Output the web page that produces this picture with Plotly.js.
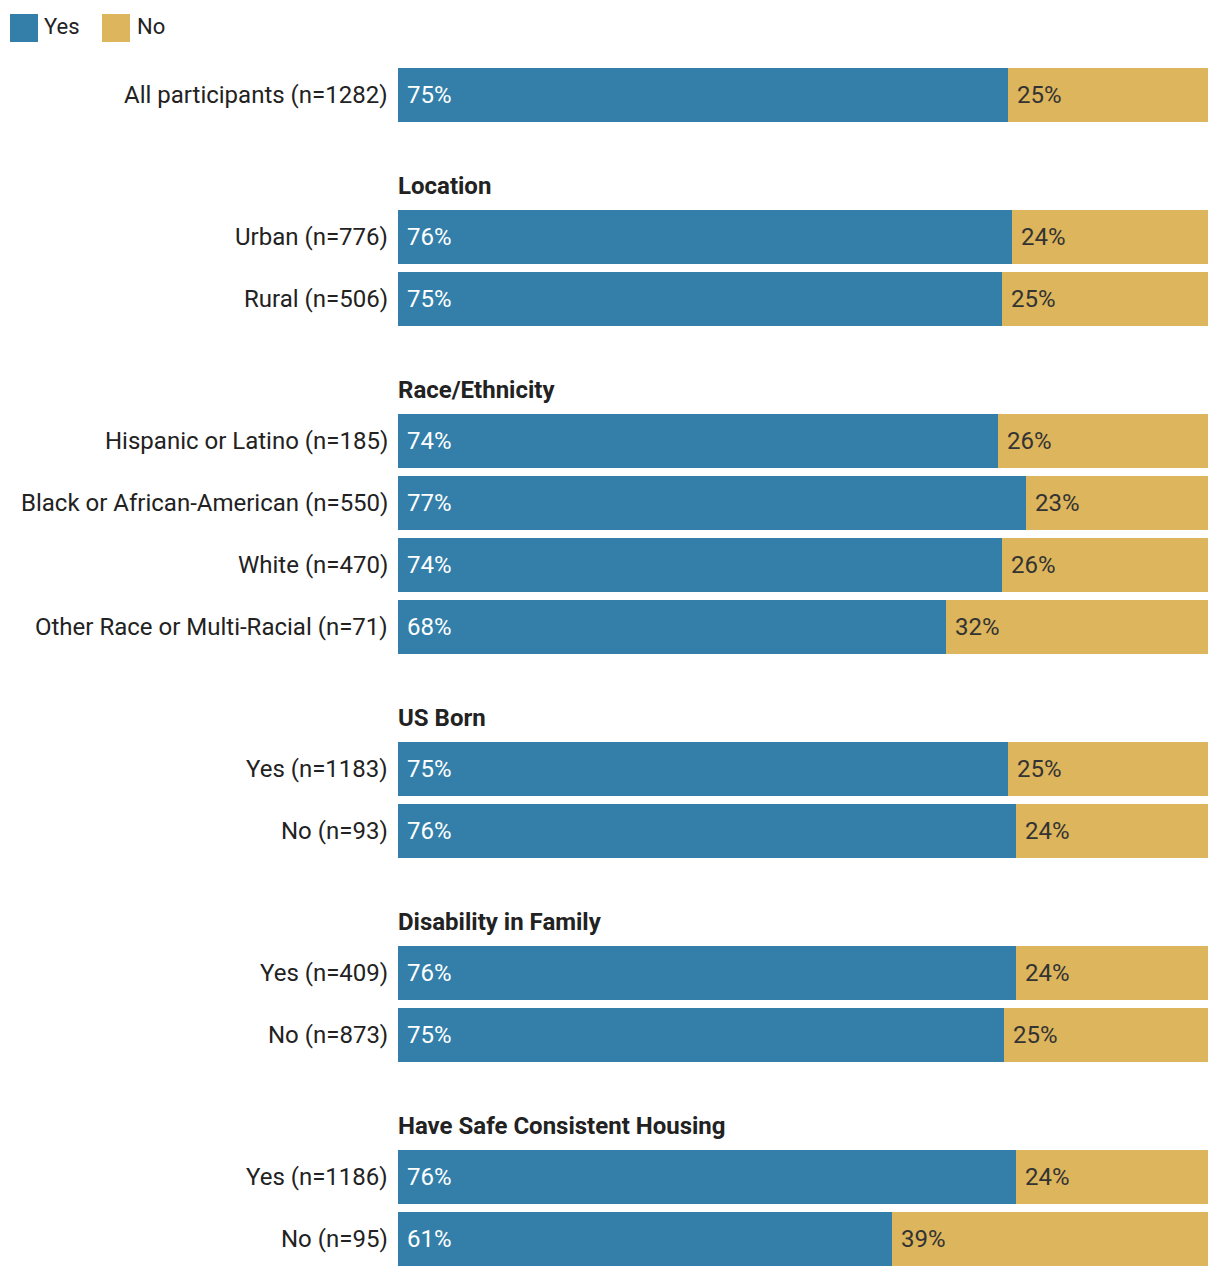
<!DOCTYPE html>
<html>
<head>
<meta charset="utf-8">
<script src="https://cdn.plot.ly/plotly-3.0.1.min.js"></script>
<style>html,body{margin:0;padding:0;background:#fff;}#chart{width:1220px;height:1278px;}</style>
</head>
<body>
<div id="chart"></div>
<script>
// ---- data ----
const groupHeadings = ["", "Location", "Race/Ethnicity", "US Born", "Disability in Family", "Have Safe Consistent Housing"];
const rowGroup = [0, 1, 1, 2, 2, 2, 2, 3, 3, 4, 4, 5, 5];
const categories = [
  "All participants (n=1282)",
  "Urban (n=776)", "Rural (n=506)",
  "Hispanic or Latino (n=185)", "Black or African-American (n=550)", "White (n=470)", "Other Race or Multi-Racial (n=71)",
  "Yes (n=1183)", "No (n=93)",
  "Yes (n=409)", "No (n=873)",
  "Yes (n=1186)", "No (n=95)"
];
const yesValues = [75.3, 75.8, 74.6, 74.1, 77.5, 74.6, 67.7, 75.3, 76.3, 76.3, 74.8, 76.3, 61.0];
const noValues  = [24.7, 24.2, 25.4, 25.9, 22.5, 25.4, 32.3, 24.7, 23.7, 23.7, 25.2, 23.7, 39.0];
const yesLabels = ["75%", "76%", "75%", "74%", "77%", "74%", "68%", "75%", "76%", "76%", "75%", "76%", "61%"];
const noLabels  = ["25%", "24%", "25%", "26%", "23%", "26%", "32%", "25%", "24%", "24%", "25%", "24%", "39%"];

// ---- layout helpers ----
const BLUE = "#337FAA", GOLD = "#DDB55C";
const FONT = "Roboto, 'Noto Sans', sans-serif";
const groupGap = 142 / 62; // row units between groups
const headingOffset = 51 / 62;
const ypos = [];
let cur = 0;
for (let i = 0; i < categories.length; i++) {
  if (i === 0) cur = 0;
  else if (rowGroup[i] !== rowGroup[i - 1]) cur += groupGap;
  else cur += 1;
  ypos.push(cur);
}

const traces = [
  {type: "bar", orientation: "h", name: "Yes", x: yesValues, y: ypos, marker: {color: BLUE}, width: 54 / 62, hoverinfo: "skip"},
  {type: "bar", orientation: "h", name: "No", x: noValues, y: ypos, marker: {color: GOLD}, width: 54 / 62, hoverinfo: "skip"}
];

const annotations = [];
for (let i = 0; i < categories.length; i++) {
  annotations.push({xref: "paper", yref: "y", x: 0, y: ypos[i], xanchor: "right", yanchor: "middle", xshift: -8,
    text: categories[i], showarrow: false, font: {family: FONT, size: 24, color: "#222"}});
  annotations.push({xref: "x", yref: "y", x: 0, y: ypos[i], xanchor: "left", yanchor: "middle", xshift: 7,
    text: yesLabels[i], showarrow: false, font: {family: FONT, size: 24, color: "#fff"}});
  annotations.push({xref: "x", yref: "y", x: yesValues[i], y: ypos[i], xanchor: "left", yanchor: "middle", xshift: 7,
    text: noLabels[i], showarrow: false, font: {family: FONT, size: 24, color: "#333"}});
  if (i > 0 && rowGroup[i] !== rowGroup[i - 1]) {
    annotations.push({xref: "x", yref: "y", x: 0, y: ypos[i] - headingOffset, xanchor: "left", yanchor: "middle", xshift: -2,
      text: "<b>" + groupHeadings[rowGroup[i]] + "</b>", showarrow: false, font: {family: FONT, size: 24, color: "#222"}});
  }
}
// legend
const W = 810, H = 1206, L = 398, T = 64;
const px = v => (v - L) / W;
const py = v => (T + H - v) / H;
annotations.push({xref: "paper", yref: "paper", x: px(42), y: py(27), xanchor: "left", yanchor: "middle", text: "Yes", showarrow: false, font: {family: FONT, size: 22, color: "#222"}});
annotations.push({xref: "paper", yref: "paper", x: px(135), y: py(27), xanchor: "left", yanchor: "middle", text: "No", showarrow: false, font: {family: FONT, size: 22, color: "#222"}});
const shapes = [
  {type: "rect", xref: "paper", yref: "paper", x0: px(10), x1: px(38), y0: py(42), y1: py(14), fillcolor: BLUE, line: {width: 0}},
  {type: "rect", xref: "paper", yref: "paper", x0: px(102), x1: px(130), y0: py(42), y1: py(14), fillcolor: GOLD, line: {width: 0}}
];

const layout = {
  width: 1220, height: 1278,
  margin: {l: L, r: 12, t: T, b: 8},
  barmode: "stack",
  bargap: 0,
  showlegend: false,
  paper_bgcolor: "#fff", plot_bgcolor: "#fff",
  xaxis: {range: [0, 100], visible: false, fixedrange: true},
  yaxis: {range: [ypos[ypos.length - 1] + 0.5, -0.5], visible: false, fixedrange: true},
  annotations: annotations,
  shapes: shapes,
  font: {family: FONT}
};
Plotly.newPlot("chart", traces, layout, {displayModeBar: false, staticPlot: true});
</script>
</body>
</html>
